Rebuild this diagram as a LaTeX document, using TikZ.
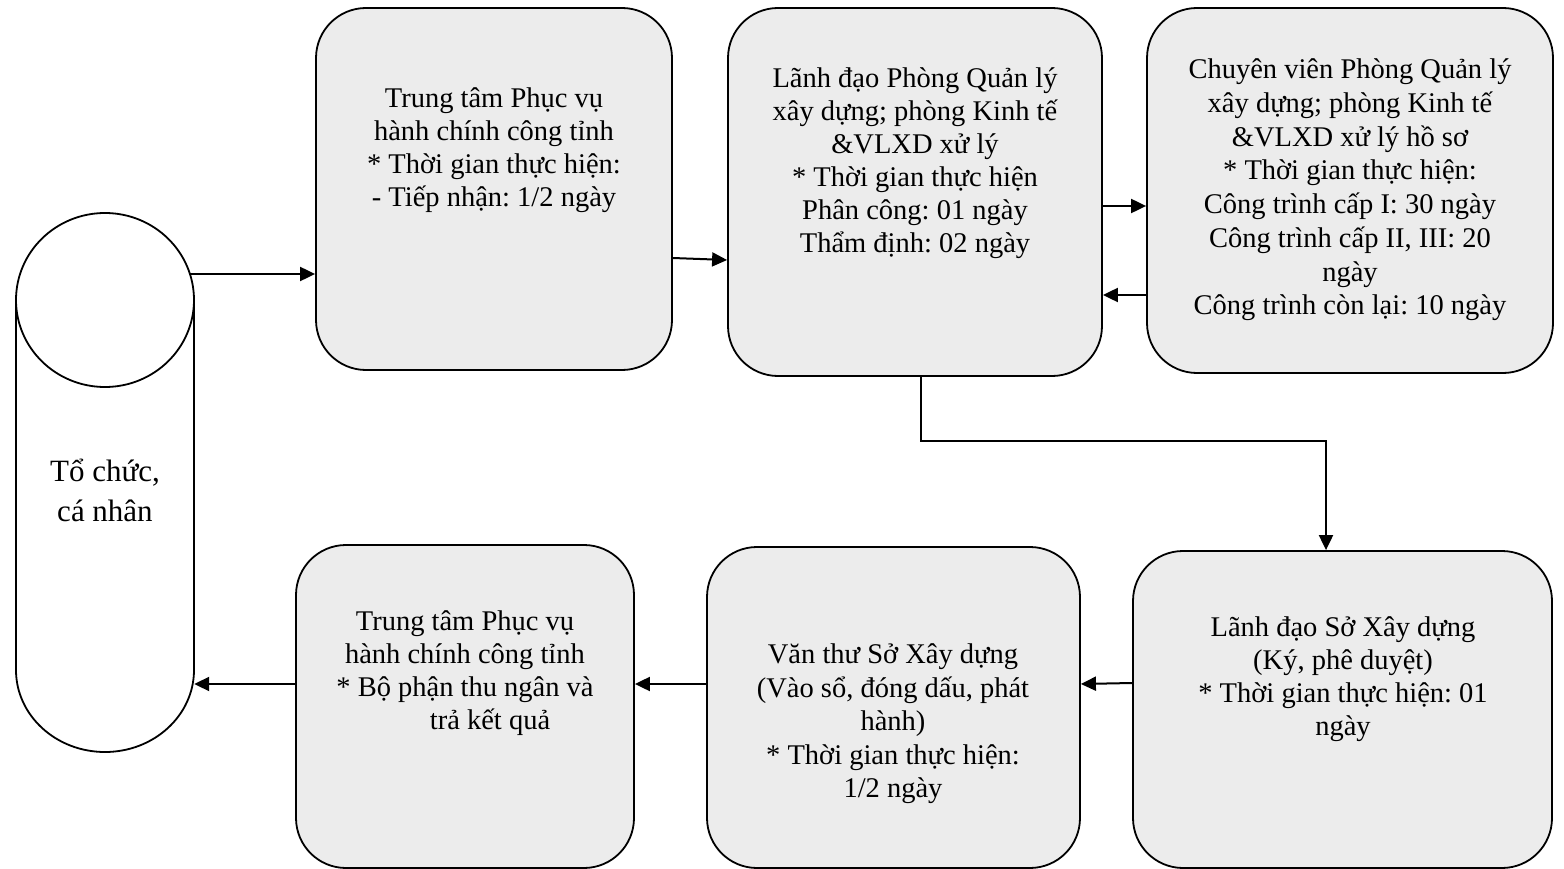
\documentclass[tikz,border=0pt]{standalone}
\usepackage{fontspec}
\setmainfont{Liberation Serif}
\usetikzlibrary{arrows.meta,calc}
\definecolor{boxfill}{HTML}{ECECEC}
\tikzset{
  box/.style={draw=black, line width=1.8pt, fill=boxfill, rounded corners=50pt, inner sep=0pt},
  txt/.style={align=center, font=\fontsize{28.5}{33}\selectfont, inner sep=0pt},
  arr/.style={line width=2pt, -{Triangle[length=15pt,width=14pt]}},
  cylline/.style={draw=black, line width=1.8pt},
}
\frenchspacing
\begin{document}
\begin{tikzpicture}[x=1pt,y=-1pt]
\useasboundingbox (0,0) rectangle (1564,869);
% cylinder
\node[minimum width=178pt, minimum height=539pt, inner sep=0pt] (cyl) at (105,482.5) {};
\fill[white] (16,300) -- (16,670) arc[start angle=180,end angle=360,x radius=89,y radius=-82] -- (194,300) -- cycle;
\draw[cylline] (16,300) -- (16,670) arc[start angle=180,end angle=360,x radius=89,y radius=-82] -- (194,300);
\draw[cylline, fill=white] (105,300) ellipse[x radius=89, y radius=87];
\node[txt, font=\fontsize{31}{40}\selectfont] (cyltext) at (105,490) {Tổ chức,\\cá nhân};
% boxes
\node[box, minimum width=356pt, minimum height=362pt] (b1) at (494,189) {};
\node[box, minimum width=374pt, minimum height=368pt] (b2) at (915,192) {};
\node[box, minimum width=406pt, minimum height=365pt] (b3) at (1350,190.5) {};
\node[box, minimum width=419pt, minimum height=317pt] (b4) at (1342.5,709.5) {};
\node[box, minimum width=373pt, minimum height=321pt] (b5) at (893.5,707.5) {};
\node[box, minimum width=338pt, minimum height=323pt] (b6) at (465,706.5) {};
% texts
\node[txt] (t1) at (494,150) {Trung tâm Phục vụ\\hành chính công tỉnh\\* Thời gian thực hiện:\\- Tiếp nhận: 1/2 ngày};
\node[txt] (t2) at (915,163) {Lãnh đạo Phòng Quản lý\\xây dựng; phòng Kinh tế\\\&VLXD xử lý\\* Thời gian thực hiện\\Phân công: 01 ngày\\Thẩm định: 02 ngày};
\node[txt, font=\fontsize{28.5}{33.7}\selectfont] (t3) at (1350,190) {Chuyên viên Phòng Quản lý\\xây dựng; phòng Kinh tế\\\&VLXD xử lý hồ sơ\\* Thời gian thực hiện:\\Công trình cấp I: 30 ngày\\Công trình cấp II, III: 20\\ngày\\Công trình còn lại: 10 ngày};
\node[txt] (t4) at (1343,679) {Lãnh đạo Sở Xây dựng\\(Ký, phê duyệt)\\* Thời gian thực hiện: 01\\ngày};
\node[txt, font=\fontsize{28.5}{33.5}\selectfont] (t5) at (893,724) {Văn thư Sở Xây dựng\\(Vào sổ, đóng dấu, phát\\hành)\\* Thời gian thực hiện:\\1/2 ngày};
\node[txt] (t6) at (465,673) {Trung tâm Phục vụ\\hành chính công tỉnh\\* Bộ phận thu ngân và\\\hspace*{50pt}trả kết quả};
% connectors
\draw[arr] ([xshift=-4pt]cyl.east |- 0,274) -- (b1.west |- 0,274);
\draw[arr] (b1.east |- 0,258) -- (b2.west |- 0,260);
\draw[arr] (b2.east |- 0,206) -- (b3.west |- 0,206);
\draw[arr] (b3.west |- 0,295) -- (b2.east |- 0,295);
\coordinate (c1) at (921,441);
\coordinate (c2) at (1326,441);
\draw[arr] (b2.south -| c1) -- (c1) -- (c2) -- (c2 |- b4.north);
\draw[arr] (b4.west |- 0,683) -- (b5.east |- 0,684);
\draw[arr] (b5.west |- 0,684) -- (b6.east |- 0,684);
\draw[arr] (b6.west |- 0,684) -- (cyl.east |- 0,684);
\end{tikzpicture}
\end{document}
